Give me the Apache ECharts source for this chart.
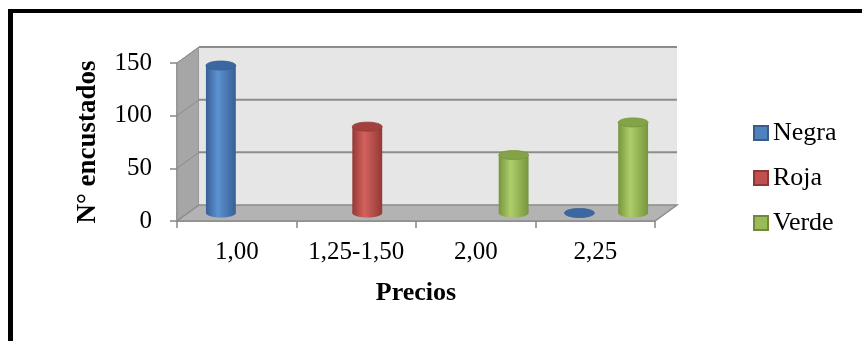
<!DOCTYPE html>
<html>
<head>
<meta charset="utf-8">
<script src="https://cdn.jsdelivr.net/npm/echarts@6/dist/echarts.min.js"></script>
<style>
html,body{margin:0;padding:0;background:#fff;}
#chart{width:862px;height:341px;}
</style>
</head>
<body>
<div id="chart"></div>
<script>
// datos
var precios = ['1,00', '1,25-1,50', '2,00', '2,25'];
var negra = [140, null, null, 0];
var roja = [null, 82, null, null];
var verde = [null, null, 55, 86];
var yTicks = [0, 50, 100, 150];

// profundidad del efecto 3D
var DX = 22, DY = -16;
var FONT = '"Liberation Serif", "Times New Roman", serif';

function toData(arr) {
    var out = [];
    arr.forEach(function (v, i) { if (v !== null) out.push([i, v]); });
    return out;
}

function renderWalls(params, api) {
    var cs = params.coordSys;
    var x0 = cs.x, x1 = cs.x + cs.width, yt = cs.y, yb = cs.y + cs.height;
    var kids = [];
    kids.push({type: 'polygon', shape: {points: [[x0, yt], [x0 + DX, yt + DY], [x0 + DX, yb + DY], [x0, yb]]},
        style: {fill: '#a6a6a6', stroke: '#8c8c8c', lineWidth: 1}});
    kids.push({type: 'rect', shape: {x: x0 + DX, y: yt + DY, width: x1 - x0, height: yb - yt},
        style: {fill: '#e6e6e6'}});
    yTicks.forEach(function (v) {
        var y = api.coord([0, v])[1];
        if (v > 0) {
            kids.push({type: 'line', shape: {x1: x0 + DX, y1: y + DY, x2: x1 + DX, y2: y + DY},
                style: {stroke: '#8c8c8c', lineWidth: 2}});
        }
        kids.push({type: 'line', shape: {x1: x0, y1: y, x2: x0 + DX, y2: y + DY},
            style: {stroke: '#8c8c8c', lineWidth: 1}});
    });
    kids.push({type: 'polygon', shape: {points: [[x0, yb], [x1, yb], [x1 + DX, yb + DY], [x0 + DX, yb + DY]]},
        style: {fill: '#b3b3b3', stroke: '#8c8c8c', lineWidth: 1.5}});
    return {type: 'group', children: kids};
}

function cylinder(slot, dark, light, cap) {
    return function (params, api) {
        var cat = api.value(0), val = api.value(1);
        var band = api.size([1, 0])[0];
        var p0 = api.coord([cat, 0]);
        var p1 = api.coord([cat, val]);
        var cx = p0[0] + slot * band * 0.225 + DX / 2;
        var yb = p0[1] + DY / 2, yt = p1[1] + DY / 2;
        var r = band * 0.125, ry = 4.5;
        var grad = {type: 'linear', x: 0, y: 0, x2: 1, y2: 0,
            colorStops: [{offset: 0, color: dark}, {offset: 0.4, color: light}, {offset: 1, color: dark}]};
        var kids = [];
        if (val > 0) {
            kids.push({type: 'ellipse', shape: {cx: cx, cy: yb, rx: r, ry: ry}, style: {fill: grad}});
            kids.push({type: 'rect', shape: {x: cx - r, y: yt, width: 2 * r, height: yb - yt}, style: {fill: grad}});
        }
        kids.push({type: 'ellipse', shape: {cx: cx, cy: yt, rx: r, ry: ry}, style: {fill: cap, stroke: dark, lineWidth: 0.8}});
        return {type: 'group', children: kids};
    };
}

var chart = echarts.init(document.getElementById('chart'));
chart.setOption({
    animation: false,
    graphic: [
        {type: 'rect', left: 8, top: 9, shape: {width: 854, height: 4}, style: {fill: '#000'}},
        {type: 'rect', left: 8, top: 9, shape: {width: 5, height: 332}, style: {fill: '#000'}}
    ],
    grid: {left: 177, right: 207, top: 63, bottom: 120},
    legend: {
        orient: 'vertical', left: 753, top: 120, itemGap: 19, padding: 0,
        itemWidth: 14, itemHeight: 14, icon: 'rect',
        data: ['Negra', 'Roja', 'Verde'],
        textStyle: {fontFamily: FONT, fontSize: 26, lineHeight: 26, color: '#000'}
    },
    xAxis: {
        type: 'category', data: precios,
        axisLine: {lineStyle: {color: '#868686', width: 1.5}},
        axisTick: {show: true, length: 7, lineStyle: {color: '#868686', width: 1.5}},
        axisLabel: {interval: 0, margin: 19, fontFamily: FONT, fontSize: 25, color: '#000'},
        name: 'Precios', nameLocation: 'middle', nameGap: 59,
        nameTextStyle: {fontFamily: FONT, fontSize: 26, fontWeight: 'bold', color: '#000'}
    },
    yAxis: {
        type: 'value', min: 0, max: 150, interval: 50,
        axisLine: {show: true, lineStyle: {color: '#868686', width: 1.5}},
        axisTick: {show: true, length: 7, lineStyle: {color: '#868686', width: 1.5}},
        axisLabel: {margin: 25, fontFamily: FONT, fontSize: 25, color: '#000'},
        splitLine: {show: false},
        name: 'N° encustados', nameLocation: 'middle', nameGap: 75,
        nameTextStyle: {fontFamily: FONT, fontSize: 27, fontWeight: 'bold', color: '#000'}
    },
    series: [
        {type: 'custom', name: 'paredes', z: 1, silent: true, renderItem: renderWalls, data: [[0, 0]]},
        {type: 'custom', name: 'Negra', z: 3, renderItem: cylinder(-1, '#375f94', '#5d92d2', '#3c68a2'),
            itemStyle: {color: '#4f81bd', borderColor: '#385d8a', borderWidth: 1}, data: toData(negra)},
        {type: 'custom', name: 'Roja', z: 3, renderItem: cylinder(0, '#943936', '#d3625e', '#a3413e'),
            itemStyle: {color: '#c0504d', borderColor: '#8c3836', borderWidth: 1}, data: toData(roja)},
        {type: 'custom', name: 'Verde', z: 3, renderItem: cylinder(1, '#77963c', '#aecd6b', '#82a347'),
            itemStyle: {color: '#9bbb59', borderColor: '#71893f', borderWidth: 1}, data: toData(verde)}
    ]
});
</script>
</body>
</html>
